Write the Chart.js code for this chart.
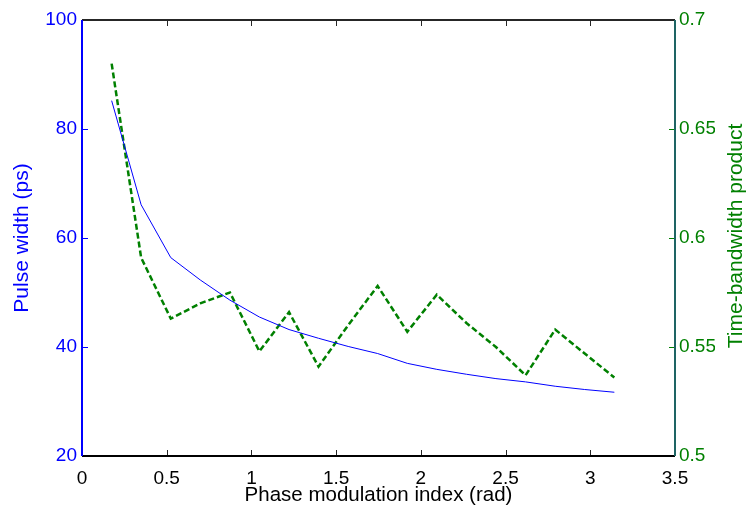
<!DOCTYPE html>
<html>
<head>
<meta charset="utf-8">
<script src="https://cdn.jsdelivr.net/npm/chart.js@4/dist/chart.umd.min.js"></script>
<style>
    html, body { margin: 0; padding: 0; background: #fff; }
    #wrap { width: 746px; height: 514px; }
</style>
</head>
<body>
<div id="wrap"><canvas id="chart" width="746" height="514"></canvas></div>
<script>
// Phase modulation index (rad)
const phaseIndex = [0.175, 0.349, 0.524, 0.698, 0.873, 1.047, 1.222, 1.396, 1.571,
    1.745, 1.920, 2.094, 2.269, 2.443, 2.618, 2.793, 2.967, 3.142];
// Pulse width (ps) - left axis
const pulseWidth = [85.2, 66.1, 56.4, 52.3, 48.6, 45.5, 43.2, 41.6, 40.1,
    38.8, 37.0, 35.9, 35.0, 34.2, 33.6, 32.8, 32.2, 31.7];
// Time-bandwidth product - right axis
const tbProduct = [0.680, 0.591, 0.563, 0.570, 0.575, 0.548, 0.566, 0.541, 0.560,
    0.578, 0.557, 0.574, 0.561, 0.550, 0.537, 0.558, 0.547, 0.536];

const xTicks = [0, 0.5, 1, 1.5, 2, 2.5, 3, 3.5];
const leftTicks = [20, 40, 60, 80, 100];
const rightTicks = [0.5, 0.55, 0.6, 0.65, 0.7];

const BLUE = '#0000ff';
const GREEN = '#008000';
const FONT = 'Liberation Sans, Arial, sans-serif';

// MATLAB-like frame: inner ticks, box, right label drawn over tick labels
const framePlugin = {
    id: 'frame',
    afterDraw(chart) {
        const { ctx, chartArea: a, scales } = chart;
        const tl = 6;
        ctx.save();
        // x ticks (bottom + top)
        ctx.strokeStyle = '#262626';
        ctx.lineWidth = 1;
        xTicks.forEach(v => {
            const px = Math.round(scales.x.getPixelForValue(v)) + 0.5;
            ctx.beginPath();
            ctx.moveTo(px, a.bottom); ctx.lineTo(px, a.bottom - tl);
            ctx.moveTo(px, a.top); ctx.lineTo(px, a.top + tl);
            ctx.stroke();
        });
        // left ticks
        ctx.strokeStyle = BLUE;
        leftTicks.forEach(v => {
            const py = Math.round(scales.y.getPixelForValue(v)) + 0.5;
            ctx.beginPath();
            ctx.moveTo(a.left, py); ctx.lineTo(a.left + tl, py);
            ctx.stroke();
        });
        // right ticks
        ctx.strokeStyle = GREEN;
        rightTicks.forEach(v => {
            const py = Math.round(scales.y1.getPixelForValue(v)) + 0.5;
            ctx.beginPath();
            ctx.moveTo(a.right, py); ctx.lineTo(a.right - tl, py);
            ctx.stroke();
        });
        // box
        ctx.lineWidth = 2;
        ctx.strokeStyle = '#262626';
        ctx.beginPath();
        ctx.moveTo(a.left, a.top); ctx.lineTo(a.right, a.top);
        ctx.stroke();
        ctx.strokeStyle = '#000';
        ctx.beginPath();
        ctx.moveTo(a.left, a.bottom); ctx.lineTo(a.right, a.bottom);
        ctx.stroke();
        ctx.strokeStyle = BLUE;
        ctx.beginPath();
        ctx.moveTo(a.left, a.top); ctx.lineTo(a.left, a.bottom);
        ctx.stroke();
        ctx.strokeStyle = '#1e6464';
        ctx.beginPath();
        ctx.moveTo(a.right, a.top); ctx.lineTo(a.right, a.bottom);
        ctx.stroke();

        // right axis label, with a white box that hides part of the tick labels
        const cy = 236;
        ctx.fillStyle = '#fff';
        ctx.fillRect(715, cy - 128, 31, 256);
        ctx.translate(736, cy);
        ctx.rotate(-Math.PI / 2);
        ctx.fillStyle = GREEN;
        ctx.font = '21px ' + FONT;
        ctx.textAlign = 'center';
        ctx.textBaseline = 'middle';
        ctx.fillText('Time-bandwidth product', 0, 0);
        ctx.restore();
    }
};

const ctx = document.getElementById('chart').getContext('2d');
new Chart(ctx, {
    type: 'line',
    data: {
        datasets: [{
            label: 'Pulse width (ps)',
            data: phaseIndex.map((x, i) => ({ x: x, y: pulseWidth[i] })),
            borderColor: BLUE,
            borderWidth: 1,
            pointRadius: 0,
            tension: 0,
            yAxisID: 'y'
        }, {
            label: 'Time-bandwidth product',
            data: phaseIndex.map((x, i) => ({ x: x, y: tbProduct[i] })),
            borderColor: GREEN,
            borderWidth: 2.5,
            borderDash: [6, 3],
            pointRadius: 0,
            tension: 0,
            yAxisID: 'y1'
        }]
    },
    options: {
        responsive: false,
        animation: false,
        devicePixelRatio: 1,
        layout: { padding: { top: 20, left: 0, right: 0, bottom: 0 } },
        plugins: {
            legend: { display: false },
            tooltip: { enabled: false }
        },
        scales: {
            x: {
                type: 'linear',
                min: 0, max: 3.5,
                grid: { display: false, drawTicks: false },
                border: { display: false },
                ticks: {
                    stepSize: 0.5,
                    color: '#000',
                    font: { family: FONT, size: 19 },
                    padding: 11,
                    maxRotation: 0,
                    callback: v => String(v)
                },
                title: {
                    display: true,
                    text: 'Phase modulation index (rad)',
                    color: '#000',
                    font: { family: FONT, size: 20.5 },
                    padding: { top: 0, bottom: 6 }
                },
                afterFit: s => { s.height = 58; }
            },
            y: {
                position: 'left',
                min: 20, max: 100,
                grid: { display: false, drawTicks: false },
                border: { display: false },
                ticks: {
                    stepSize: 20,
                    color: BLUE,
                    font: { family: FONT, size: 19 },
                    padding: 5
                },
                title: {
                    display: true,
                    text: 'Pulse width (ps)',
                    color: BLUE,
                    font: { family: FONT, size: 21 },
                    padding: { top: 10, bottom: 0 }
                },
                afterFit: s => { s.width = 82; }
            },
            y1: {
                position: 'right',
                min: 0.5, max: 0.7,
                grid: { display: false, drawTicks: false },
                border: { display: false },
                ticks: {
                    stepSize: 0.05,
                    color: GREEN,
                    font: { family: FONT, size: 19 },
                    padding: 4,
                    callback: v => String(Math.round(v * 100) / 100)
                },
                afterFit: s => { s.width = 71; }
            }
        }
    },
    plugins: [framePlugin]
});
</script>
</body>
</html>
